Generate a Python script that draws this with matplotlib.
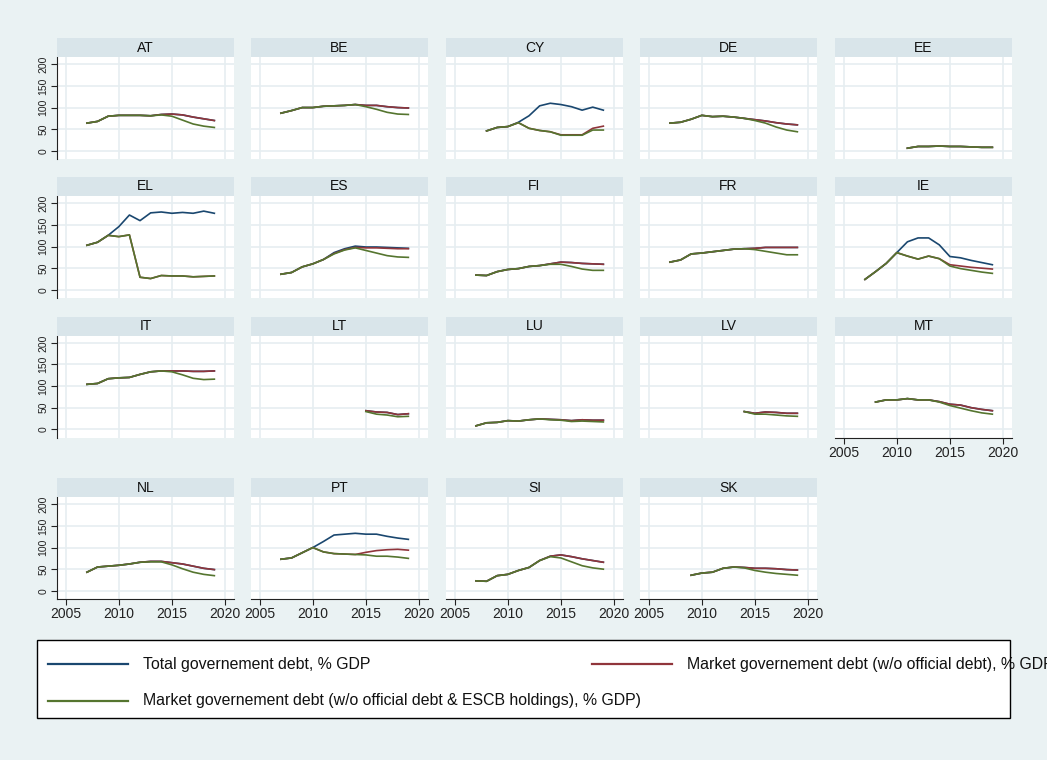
import numpy as np
import matplotlib
matplotlib.use("Agg")
import matplotlib.pyplot as plt
from matplotlib.patches import Rectangle
from matplotlib.lines import Line2D

plt.rcParams['font.family'] = ['Liberation Sans', 'DejaVu Sans']

# countries in panel order, first year of each series
countries = ['AT', 'BE', 'CY', 'DE', 'EE',
             'EL', 'ES', 'FI', 'FR', 'IE',
             'IT', 'LT', 'LU', 'LV', 'MT',
             'NL', 'PT', 'SI', 'SK']
start_year = {'AT': 2007, 'BE': 2007, 'CY': 2008, 'DE': 2007, 'EE': 2011,
              'EL': 2007, 'ES': 2007, 'FI': 2007, 'FR': 2007, 'IE': 2007,
              'IT': 2007, 'LT': 2015, 'LU': 2007, 'LV': 2014, 'MT': 2008,
              'NL': 2007, 'PT': 2007, 'SI': 2007, 'SK': 2009}

# Total governement debt, % GDP
total = {
    'AT': [64, 68, 80, 82, 82, 82, 81, 84, 85, 83, 78, 74, 70],
    'BE': [87, 93, 100, 100, 103, 104, 105, 107, 105, 105, 102, 100, 99],
    'CY': [46, 54, 56, 66, 81, 104, 110, 107, 102, 94, 101, 94],
    'DE': [64, 66, 73, 82, 79, 80, 78, 75, 72, 69, 65, 62, 60],
    'EE': [6, 10, 10, 11, 10, 10, 9, 8, 8],
    'EL': [103, 110, 126, 146, 173, 160, 178, 180, 177, 179, 177, 182, 177],
    'ES': [36, 40, 53, 60, 70, 86, 95, 101, 99, 99, 98, 97, 96],
    'FI': [34, 33, 42, 47, 49, 54, 56, 60, 64, 63, 61, 60, 59],
    'FR': [64, 69, 83, 85, 88, 91, 94, 95, 96, 98, 98, 98, 98],
    'IE': [24, 42, 61, 86, 111, 120, 120, 104, 77, 74, 68, 63, 58],
    'IT': [104, 106, 117, 119, 120, 127, 133, 135, 135, 135, 134, 134, 135],
    'LT': [43, 40, 39, 34, 36],
    'LU': [8, 15, 16, 20, 19, 22, 24, 23, 22, 20, 22, 21, 21],
    'LV': [41, 37, 40, 39, 37, 37],
    'MT': [63, 68, 68, 71, 68, 68, 64, 58, 56, 50, 46, 43],
    'NL': [43, 55, 57, 59, 62, 66, 68, 68, 65, 62, 57, 52, 49],
    'PT': [73, 76, 88, 100, 114, 129, 131, 133, 131, 131, 126, 122, 119],
    'SI': [23, 22, 35, 38, 47, 54, 70, 80, 83, 79, 74, 70, 66],
    'SK': [36, 41, 43, 52, 55, 54, 52, 52, 51, 49, 48],
}

# Market governement debt (w/o official debt), % GDP
market = dict(total)
market['CY'] = [46, 54, 56, 65, 52, 47, 44, 37, 37, 37, 52, 57]
market['EL'] = [103, 110, 126, 123, 127, 29, 26, 33, 32, 32, 30, 31, 32]
market['ES'] = [36, 40, 53, 60, 70, 84, 93, 98, 97, 97, 96, 95, 95]
market['IE'] = [24, 42, 61, 86, 78, 71, 78, 72, 58, 55, 52, 50, 48]
market['PT'] = [73, 76, 88, 100, 90, 86, 85, 84, 89, 93, 95, 96, 94]

# Market governement debt (w/o official debt & ESCB holdings), % GDP
escb = {
    'AT': [64, 68, 80, 82, 82, 82, 81, 83, 80, 71, 62, 57, 54],
    'BE': [87, 93, 100, 100, 103, 104, 105, 107, 102, 96, 89, 85, 84],
    'CY': [46, 54, 56, 65, 52, 47, 44, 36, 36, 36, 48, 48],
    'DE': [64, 66, 73, 82, 79, 80, 78, 75, 70, 64, 55, 48, 44],
    'EE': [6, 10, 10, 11, 10, 10, 9, 8, 8],
    'EL': [103, 110, 126, 123, 127, 29, 26, 33, 32, 32, 30, 31, 32],
    'ES': [36, 40, 53, 60, 70, 83, 92, 97, 91, 85, 79, 76, 75],
    'FI': [34, 33, 42, 47, 49, 54, 56, 59, 59, 54, 48, 45, 45],
    'FR': [64, 69, 83, 85, 88, 91, 94, 95, 93, 89, 85, 81, 81],
    'IE': [24, 42, 61, 86, 78, 71, 78, 72, 55, 49, 45, 41, 38],
    'IT': [104, 106, 117, 119, 120, 127, 133, 135, 133, 126, 118, 115, 116],
    'LT': [41, 35, 33, 29, 30],
    'LU': [8, 15, 16, 20, 19, 22, 24, 22, 21, 18, 19, 18, 17],
    'LV': [41, 35, 35, 33, 31, 30],
    'MT': [63, 68, 68, 71, 68, 68, 63, 55, 49, 43, 38, 35],
    'NL': [43, 55, 57, 59, 62, 66, 67, 67, 60, 51, 43, 38, 35],
    'PT': [73, 76, 88, 100, 90, 86, 85, 84, 83, 80, 80, 78, 75],
    'SI': [23, 22, 35, 38, 47, 54, 70, 79, 76, 67, 58, 53, 50],
    'SK': [36, 41, 43, 52, 55, 53, 47, 43, 40, 38, 36],
}

labels = ['Total governement debt, % GDP',
          'Market governement debt (w/o official debt), % GDP',
          'Market governement debt (w/o official debt & ESCB holdings), % GDP)']

BG = '#EAF2F3'
HEAD = '#D9E5EA'
GRID = '#E6EEF1'
BLUE = '#1A476F'
RED = '#90353B'
GREEN = '#55752F'

W, H = 1047, 760
fig = plt.figure(figsize=(W / 100, H / 100), dpi=100, facecolor=BG)


def px_axes(x0, y0, w, h):
    return fig.add_axes([x0 / W, 1 - (y0 + h) / H, w / W, h / H])


col_left = [57, 251, 446, 640, 835]
row_top = [57, 196, 335.5, 497]
pw, ph, hh = 177, 102, 19
with_xaxis = ['MT', 'NL', 'PT', 'SI', 'SK']

for i, c in enumerate(countries):
    r, k = divmod(i, 5)
    ax = px_axes(col_left[k], row_top[r], pw, ph)
    ax.set_facecolor('white')
    years = np.arange(start_year[c], start_year[c] + len(total[c]))
    ax.plot(years, total[c], color=BLUE, lw=1.2)
    ax.plot(years, market[c], color=RED, lw=1.2)
    ax.plot(years, escb[c], color=GREEN, lw=1.2)
    ax.set_xlim(2004.18, 2020.85)
    ax.set_ylim(-19, 217)
    ax.set_xticks([2005, 2010, 2015, 2020])
    ax.set_yticks([0, 50, 100, 150, 200])
    ax.grid(True, color=GRID, lw=1.2)
    ax.set_axisbelow(True)
    for s in ax.spines.values():
        s.set_visible(False)

    if k == 0:
        ax.spines['left'].set_visible(True)
        ax.spines['left'].set_color('#222222')
        ax.tick_params(axis='y', length=4, width=0.8, pad=2, labelsize=7.5,
                       labelcolor='#222222', color='#222222')
        for t in ax.get_yticklabels():
            t.set_rotation(90)
            t.set_va('center')
    else:
        ax.tick_params(axis='y', length=0, labelleft=False)

    if c in with_xaxis:
        ax.spines['bottom'].set_visible(True)
        ax.spines['bottom'].set_color('#222222')
        ax.tick_params(axis='x', length=4, width=0.8, pad=2, labelsize=10,
                       labelcolor='#222222', color='#222222')
    else:
        ax.tick_params(axis='x', length=0, labelbottom=False)

    hx = px_axes(col_left[k], row_top[r] - hh, pw, hh)
    hx.set_facecolor(HEAD)
    hx.set_xticks([])
    hx.set_yticks([])
    for s in hx.spines.values():
        s.set_visible(False)
    hx.text(0.5, 0.5, c, ha='center', va='center', fontsize=10,
            color='#111111', transform=hx.transAxes)

# legend box, drawn by hand so the long label can run past the border
fig.patches.append(Rectangle((37 / W, 1 - 718 / H), (1010 - 37) / W, (718 - 640) / H,
                             transform=fig.transFigure, facecolor='white',
                             edgecolor='black', lw=1.0, zorder=0))
legend_pos = [(48, 664), (592, 664), (48, 701)]
for (x0, y0), lab, col in zip(legend_pos, labels, [BLUE, RED, GREEN]):
    fig.add_artist(Line2D([x0 / W, (x0 + 80) / W], [1 - y0 / H, 1 - y0 / H],
                          transform=fig.transFigure, color=col, lw=1.6))
    fig.text((x0 + 95) / W, 1 - y0 / H, lab, ha='left', va='center',
             fontsize=11.4, color='#111111')

fig.savefig('out.png', dpi=100, facecolor=BG)
